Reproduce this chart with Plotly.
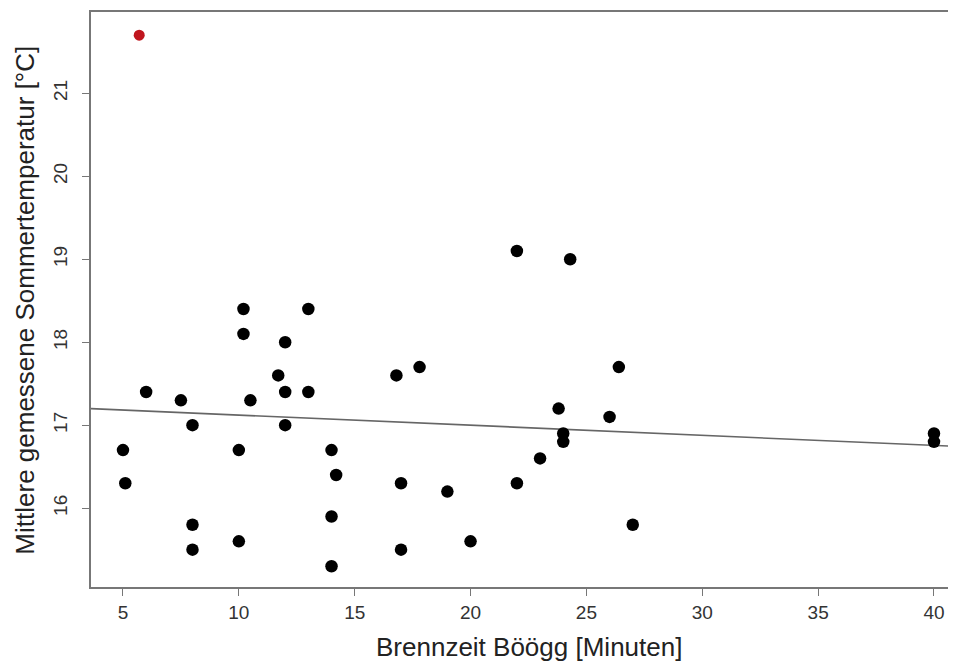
import plotly.graph_objects as go

# Data
brennzeit = [5, 5.1, 6, 7.5, 8, 8, 8, 10, 10, 10.2, 10.2, 10.5, 11.7, 12, 12, 12,
             13, 13, 14, 14.2, 14, 14, 16.8, 17.8, 17, 17, 19, 20, 22, 22, 23,
             24.3, 23.8, 24, 24, 26, 26.4, 27, 40, 40]
temperatur = [16.7, 16.3, 17.4, 17.3, 17.0, 15.8, 15.5, 16.7, 15.6, 18.4, 18.1, 17.3,
              17.6, 18.0, 17.4, 17.0, 18.4, 17.4, 16.7, 16.4, 15.9, 15.3, 17.6, 17.7,
              16.3, 15.5, 16.2, 15.6, 19.1, 16.3, 16.6, 19.0, 17.2, 16.9, 16.8, 17.1,
              17.7, 15.8, 16.9, 16.8]
outlier_x = [5.7]
outlier_y = [21.7]

# Regression line (intercept, slope)
reg_intercept = 17.244
reg_slope = -0.0122

x_range = [3.62, 40.95]
y_range = [15.05, 21.98]
x_ticks = [5, 10, 15, 20, 25, 30, 35, 40]
y_ticks = [16, 17, 18, 19, 20, 21]

font_family = "Liberation Sans, Arial, Helvetica, sans-serif"

fig = go.Figure()
fig.add_trace(go.Scatter(
    x=x_range,
    y=[reg_intercept + reg_slope * v for v in x_range],
    mode="lines",
    line=dict(color="#666666", width=1.6),
    hoverinfo="skip",
    showlegend=False,
))
fig.add_trace(go.Scatter(
    x=brennzeit, y=temperatur, mode="markers",
    marker=dict(color="#000000", size=12.5),
    showlegend=False,
))
fig.add_trace(go.Scatter(
    x=outlier_x, y=outlier_y, mode="markers",
    marker=dict(color="#c0161e", size=11),
    showlegend=False,
))

axis_common = dict(
    showgrid=False, zeroline=False,
    showline=True, linecolor="#777777", linewidth=1.5,
    ticks="outside", ticklen=7, tickwidth=1.2, tickcolor="#777777",
    tickfont=dict(family=font_family, size=19, color="#333333"),
)

# The page body has an 8px margin, so the figure is sized to fit the window.
fig.update_layout(
    width=948, height=653,
    margin=dict(l=83, r=0, t=4, b=74),
    paper_bgcolor="white", plot_bgcolor="white",
    font=dict(family=font_family),
    xaxis=dict(range=x_range, tickvals=x_ticks, mirror=True, **axis_common),
    yaxis=dict(range=y_range, tickvals=y_ticks, tickangle=-90, mirror=False,
               ticklabelstandoff=8, **axis_common),
    annotations=[
        dict(text="Brennzeit Böögg [Minuten]", xref="paper", yref="paper",
             x=0.506, y=-0.104, xanchor="center", yanchor="middle",
             showarrow=False, font=dict(size=26, color="#222222", family=font_family)),
        dict(text="Mittlere gemessene Sommertemperatur [°C]", xref="paper", yref="paper",
             x=-0.0763, y=0.498, xanchor="center", yanchor="middle", textangle=-90,
             showarrow=False, font=dict(size=26, color="#222222", family=font_family)),
    ],
)

fig.write_html("out.html")
